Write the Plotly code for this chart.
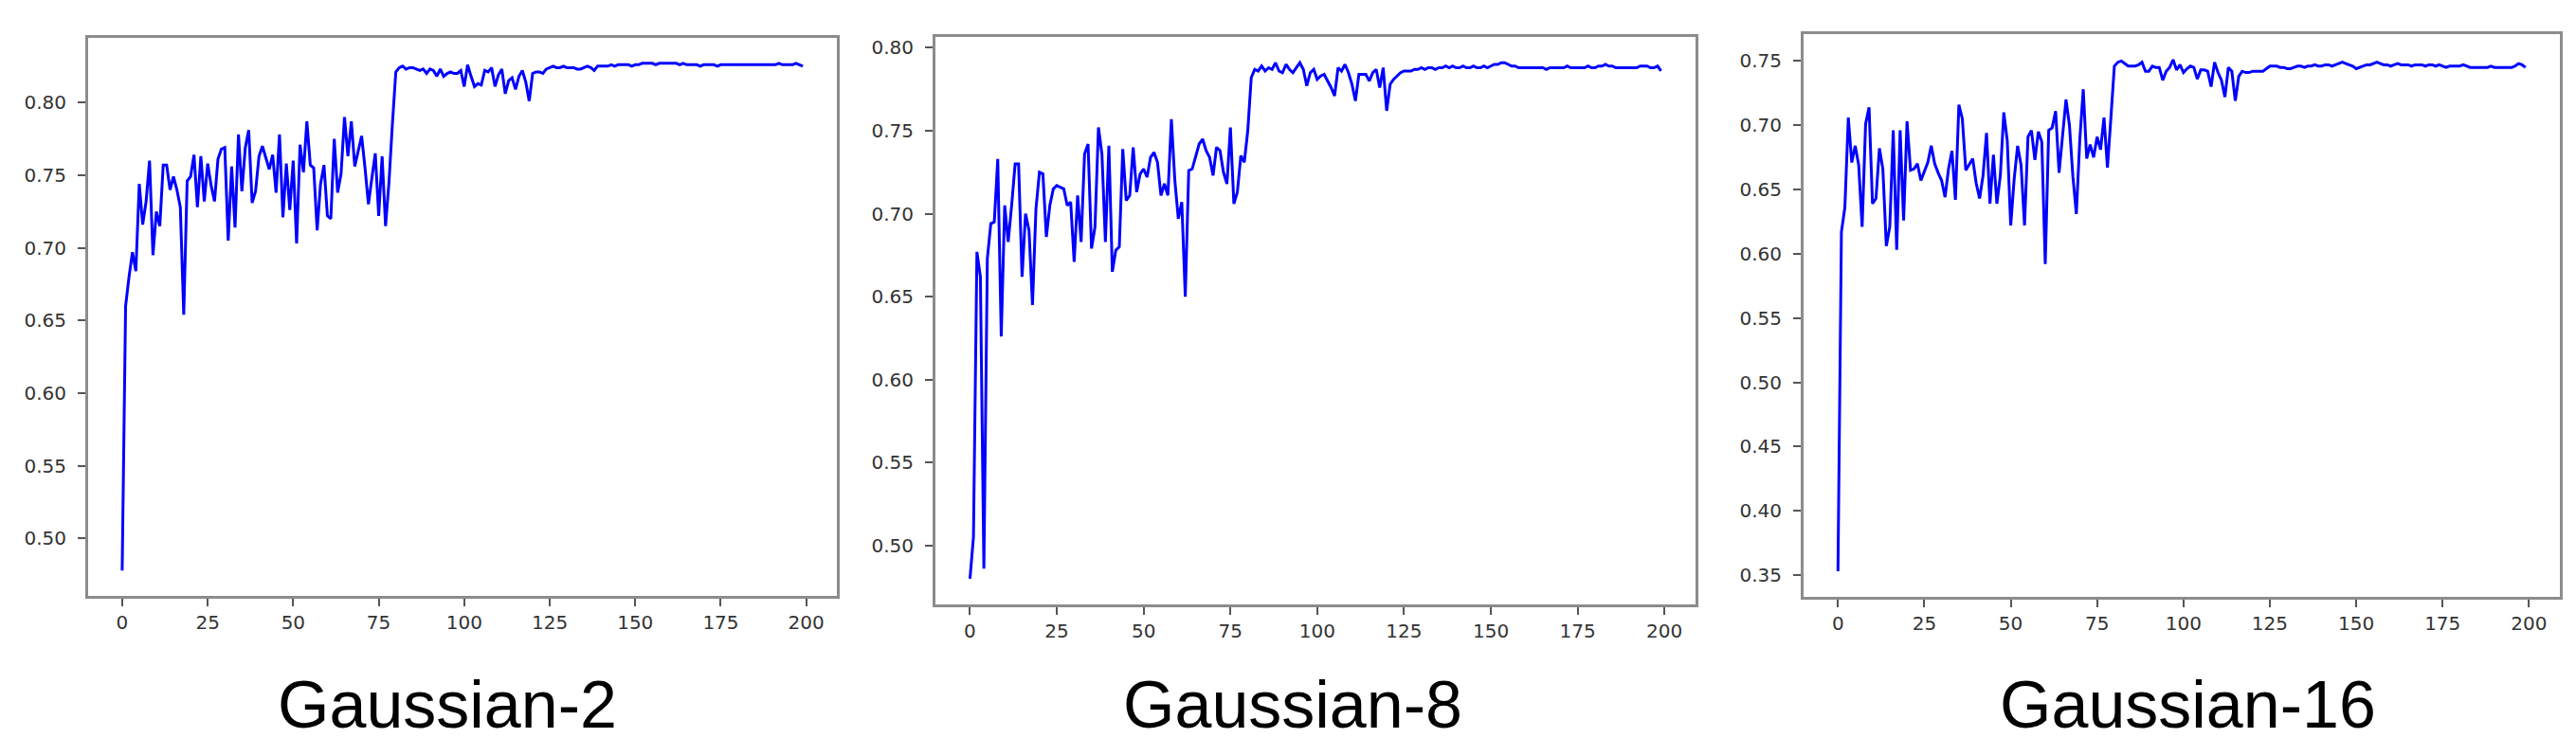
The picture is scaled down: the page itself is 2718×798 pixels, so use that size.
import numpy as np
import plotly.graph_objects as go
from plotly.subplots import make_subplots

# epochs 0..199
epochs = list(range(200))

panel_titles = ["Gaussian-2", "Gaussian-8", "Gaussian-16"]

gauss2_acc = [
    .478, .660, .680, .697, .684, .744, .716, .732, .760, .695,
    .725, .715, .757, .757, .740, .749, .740, .728, .654, .746,
    .749, .764, .728, .763, .732, .758, .743, .732, .761, .768,
    .769, .705, .756, .714, .778, .739, .769, .781, .731, .739,
    .763, .770, .762, .754, .764, .738, .778, .721, .758, .726,
    .760, .703, .771, .752, .787, .757, .755, .712, .744, .757,
    .722, .720, .775, .738, .751, .790, .763, .787, .756, .766,
    .777, .755, .730, .748, .765, .722, .763, .715, .745, .785,
    .821, .824, .825, .823, .824, .824, .823, .822, .823, .820,
    .823, .822, .818, .823, .818, .820, .821, .820, .820, .822,
    .811, .826, .818, .811, .813, .812, .822, .821, .824, .811,
    .819, .823, .806, .815, .817, .809, .818, .822, .814, .801,
    .820, .821, .821, .820, .823, .824, .825, .824, .824, .825,
    .824, .824, .824, .823, .823, .824, .825, .824, .822, .825,
    .825, .825, .825, .826, .825, .826, .826, .826, .826, .825,
    .826, .826, .827, .827, .827, .827, .826, .827, .827, .827,
    .827, .827, .827, .826, .827, .826, .826, .826, .826, .825,
    .826, .826, .826, .826, .825, .826, .826, .826, .826, .826,
    .826, .826, .826, .826, .826, .826, .826, .826, .826, .826,
    .826, .826, .827, .826, .826, .826, .826, .827, .826, .825,
]

gauss8_acc = [
    .480, .505, .677, .662, .486, .673, .694, .695, .733, .626,
    .705, .683, .705, .730, .730, .662, .700, .690, .645, .703,
    .725, .724, .686, .705, .715, .717, .716, .715, .705, .707,
    .671, .711, .683, .736, .742, .679, .692, .752, .736, .683,
    .741, .665, .678, .680, .739, .708, .711, .740, .713, .724,
    .727, .722, .734, .737, .731, .711, .718, .711, .757, .720,
    .697, .707, .650, .726, .727, .735, .742, .745, .738, .734,
    .723, .740, .738, .725, .718, .752, .706, .713, .735, .731,
    .750, .782, .787, .786, .789, .786, .788, .787, .791, .786,
    .785, .790, .787, .785, .788, .791, .787, .777, .785, .787,
    .781, .783, .784, .780, .776, .771, .788, .786, .790, .785,
    .778, .768, .784, .784, .784, .780, .785, .787, .776, .788,
    .762, .778, .781, .783, .785, .786, .786, .786, .787, .787,
    .788, .787, .788, .788, .787, .788, .788, .789, .788, .789,
    .788, .788, .789, .788, .788, .789, .788, .788, .789, .788,
    .789, .790, .790, .791, .791, .790, .789, .789, .788, .788,
    .788, .788, .788, .788, .788, .788, .787, .788, .788, .788,
    .788, .788, .789, .788, .788, .788, .788, .788, .789, .788,
    .788, .789, .789, .790, .789, .789, .788, .788, .788, .788,
    .788, .788, .788, .789, .789, .789, .788, .788, .789, .786,
]

gauss16_acc = [
    .353, .617, .636, .706, .671, .684, .669, .621, .701, .714,
    .639, .643, .682, .666, .606, .621, .696, .603, .696, .626,
    .703, .665, .666, .670, .657, .664, .671, .684, .670, .663,
    .657, .644, .666, .680, .642, .716, .705, .665, .670, .674,
    .655, .643, .661, .694, .639, .677, .639, .661, .710, .688,
    .622, .658, .684, .669, .622, .691, .696, .673, .695, .687,
    .592, .696, .698, .711, .663, .690, .720, .700, .660, .631,
    .689, .728, .674, .685, .675, .691, .681, .706, .667, .706,
    .746, .749, .750, .748, .746, .746, .746, .747, .749, .742,
    .742, .746, .745, .745, .735, .742, .745, .751, .743, .747,
    .741, .744, .746, .745, .736, .743, .743, .742, .730, .749,
    .741, .735, .722, .745, .742, .719, .738, .742, .741, .741,
    .742, .742, .742, .742, .744, .746, .746, .746, .745, .745,
    .744, .744, .745, .746, .746, .745, .746, .746, .747, .746,
    .746, .747, .747, .746, .747, .748, .749, .748, .747, .746,
    .744, .745, .746, .747, .747, .748, .749, .748, .747, .747,
    .746, .747, .748, .747, .747, .747, .746, .747, .747, .747,
    .746, .747, .747, .746, .747, .746, .745, .746, .746, .746,
    .746, .747, .746, .745, .745, .745, .745, .745, .745, .746,
    .745, .745, .745, .745, .745, .745, .746, .748, .747, .745,
]

series = [gauss2_acc, gauss8_acc, gauss16_acc]

W, H = 2718, 798

# panel frames in pixels (left, right, top, bottom)
frames = [(85, 875, 32, 621), (979, 1781, 31, 630), (1895, 2693, 28, 622)]
title_x = [464, 1356, 2300]

fig = make_subplots(rows=1, cols=3)

for k, ys in enumerate(series):
    fig.add_trace(
        go.Scatter(x=epochs, y=ys, mode="lines",
                   line=dict(color="#0000ff", width=3),
                   showlegend=False, hoverinfo="skip"),
        row=1, col=k + 1
    )

    # matplotlib-like 5% margins
    lo, hi = min(ys), max(ys)
    pad = 0.05 * (hi - lo)
    xpad = 0.05 * (epochs[-1] - epochs[0])

    left, right, top, bottom = frames[k]
    ax = dict(
        domain=[left / W, right / W],
        range=[epochs[0] - xpad, epochs[-1] + xpad],
        tickmode="array", tickvals=[0, 25, 50, 75, 100, 125, 150, 175, 200],
        ticks="outside", ticklen=8, tickwidth=2, tickcolor="#555",
        showline=True, linecolor="#8c8c8c", linewidth=3, mirror=True,
        showgrid=False, zeroline=False,
        tickfont=dict(family="DejaVu Sans", size=20, color="#333"),
    )
    ay = dict(
        domain=[1 - bottom / H, 1 - top / H],
        range=[lo - pad, hi + pad],
        dtick=0.05, tick0=0, tickformat=".2f",
        ticks="outside", ticklen=8, tickwidth=2, tickcolor="#555",
        showline=True, linecolor="#8c8c8c", linewidth=3, mirror=True,
        showgrid=False, zeroline=False,
        tickfont=dict(family="DejaVu Sans", size=20, color="#333"),
        ticklabelstandoff=8,
    )
    suffix = "" if k == 0 else str(k + 1)
    fig.layout["xaxis" + suffix].update(ax)
    fig.layout["yaxis" + suffix].update(ay)

    fig.add_annotation(
        text=panel_titles[k], x=title_x[k] / W, y=1 - 736 / H,
        xref="paper", yref="paper", xanchor="center", yanchor="middle",
        showarrow=False,
        font=dict(family="Liberation Sans", size=70, color="#000"),
    )

fig.update_layout(
    width=W, height=H,
    margin=dict(l=0, r=0, t=0, b=0),
    paper_bgcolor="white", plot_bgcolor="white",
)

fig.write_html("out.html")
